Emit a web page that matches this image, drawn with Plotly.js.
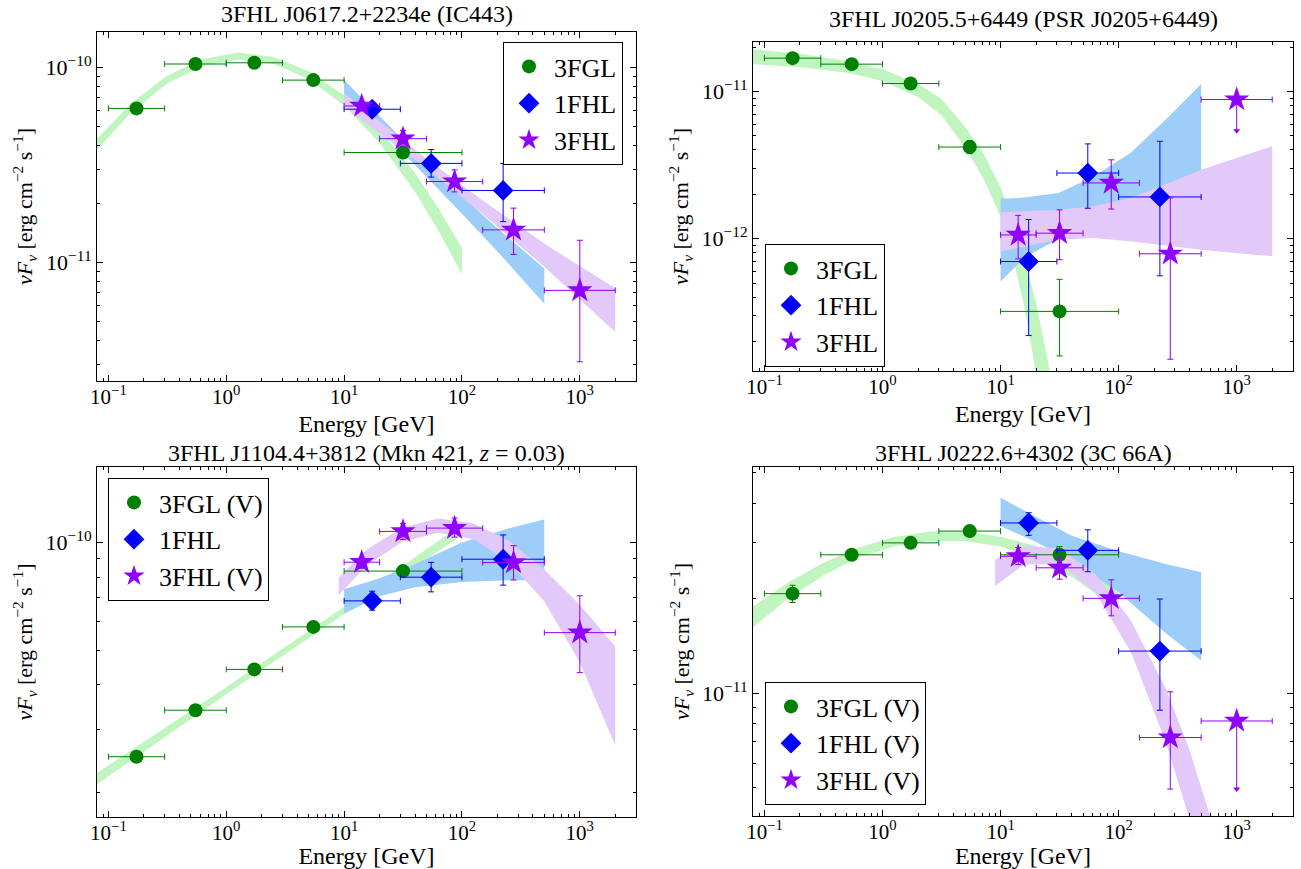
<!DOCTYPE html>
<html><head><meta charset="utf-8">
<script src="https://cdn.plot.ly/plotly-3.0.1.min.js"></script>
<style>body{margin:0;background:#fff;} #chart{width:1301px;height:869px;}</style>
</head><body><div id="chart"></div>
<script>
// ---------- energy bins (GeV) ----------
const fglE   = [0.173, 0.548, 1.73, 5.48, 31.6];
const fglElo = [0.1, 0.3, 1, 3, 10];
const fglEhi = [0.3, 1, 3, 10, 100];
const fhl1E   = [17.3, 54.8, 223.6];
const fhl1Elo = [10, 30, 100];
const fhl1Ehi = [30, 100, 500];
const fhl3E   = [14.1, 31.6, 86.6, 273.9, 1000];
const fhl3Elo = [10, 20, 50, 150, 500];
const fhl3Ehi = [20, 50, 150, 500, 2000];
const fhl3E4   = [14.1, 31.6, 86.6, 273.9];
const fhl3E4lo = [10, 20, 50, 150];
const fhl3E4hi = [20, 50, 150, 500];
const ulE = [1000], ulElo = [500], ulEhi = [2000];

// ---------- panel A : IC443 ----------
const fglA    = [6.16e-11, 1.04e-10, 1.055e-10, 8.6e-11, 3.66e-11];
const fglAhi  = [6.4e-11, 1.06e-10, 1.07e-10, 8.8e-11, 3.85e-11];
const fglAlo  = [5.95e-11, 1.02e-10, 1.04e-10, 8.4e-11, 3.48e-11];
const fhl1A   = [6.1e-11, 3.22e-11, 2.34e-11];
const fhl1Ahi = [6.35e-11, 3.79e-11, 3.22e-11];
const fhl1Alo = [5.85e-11, 2.74e-11, 1.62e-11];
const fhl3A   = [6.34e-11, 4.31e-11, 2.6e-11, 1.47e-11, 7.2e-12];
const fhl3Ahi = [6.7e-11, 4.75e-11, 2.98e-11, 1.9e-11, 1.3e-11];
const fhl3Alo = [6.0e-11, 3.95e-11, 2.3e-11, 1.1e-11, 3.1e-12];
const gA_E  = [0.08, 0.16, 0.32, 0.63, 1.26, 2.5, 5, 10, 20, 40, 63, 100];
const gA_up = [4.31e-11, 6.65e-11, 9.10e-11, 1.104e-10, 1.191e-10, 1.132e-10, 9.55e-11, 7.19e-11, 4.81e-11, 2.87e-11, 1.90e-11, 1.19e-11];
const gA_lo = [3.78e-11, 5.96e-11, 8.30e-11, 1.016e-10, 1.096e-10, 1.042e-10, 8.71e-11, 6.38e-11, 4.09e-11, 2.30e-11, 1.46e-11, 8.73e-12];
const bA_E  = [10, 20, 40, 100, 200, 500];
const bA_up = [8.61e-11, 5.60e-11, 3.68e-11, 2.19e-11, 1.50e-11, 9.31e-12];
const bA_lo = [7.06e-11, 4.76e-11, 3.16e-11, 1.78e-11, 1.14e-11, 6.15e-12];
const pA_E  = [10, 20, 50, 150, 500, 1000, 2000];
const pA_up = [7.38e-11, 5.27e-11, 3.40e-11, 2.08e-11, 1.25e-11, 9.59e-12, 7.38e-12];
const pA_lo = [6.28e-11, 4.59e-11, 3.03e-11, 1.77e-11, 9.51e-12, 6.49e-12, 4.41e-12];

// ---------- panel B : PSR J0205+6449 ----------
const fglB    = [1.68e-11, 1.53e-11, 1.13e-11, 4.19e-12, 3.21e-13];
const fglBhi  = [1.72e-11, 1.57e-11, 1.16e-11, 4.64e-12, 5.3e-13];
const fglBlo  = [1.64e-11, 1.49e-11, 1.10e-11, 3.78e-12, 1.6e-13];
const fhl1B   = [7.0e-13, 2.79e-12, 1.92e-12];
const fhl1Bhi = [1.35e-12, 4.4e-12, 4.58e-12];
const fhl1Blo = [2.2e-13, 1.61e-12, 5.6e-13];
const fhl3B   = [1.06e-12, 1.09e-12, 2.39e-12, 7.9e-13];
const fhl3Bhi = [1.44e-12, 1.57e-12, 3.43e-12, 1.89e-12];
const fhl3Blo = [7.3e-13, 7.2e-13, 1.59e-12, 1.52e-13];
const ulB = [8.8e-12], ulBend = [5.4e-12];
const gB_E  = [0.08, 0.2, 0.5, 1, 2, 3.16, 5, 7.1, 10, 12.6, 15.8, 20, 25.1, 28.2];
const gB_up = [1.93e-11, 1.80e-11, 1.61e-11, 1.41e-11, 1.127e-11, 8.87e-12, 5.75e-12, 3.85e-12, 2.24e-12, 1.34e-12, 7.36e-13, 3.69e-13, 1.49e-13, 8.9e-14];
const gB_lo = [1.53e-11, 1.46e-11, 1.34e-11, 1.175e-11, 9.16e-12, 6.89e-12, 4.17e-12, 2.60e-12, 1.41e-12, 7.73e-13, 3.52e-13, 1.22e-13, 3.42e-14, 1.55e-14];
const bB_E  = [10, 15.8, 31, 62, 126, 251, 500];
const bB_up = [1.87e-12, 1.90e-12, 2.04e-12, 2.65e-12, 3.82e-12, 6.43e-12, 1.122e-11];
const bB_lo = [5.13e-13, 7.41e-13, 1.0e-12, 1.175e-12, 1.32e-12, 1.41e-12, 1.585e-12];
const pB_E  = [10, 30.5, 61.7, 124, 251, 500, 2000];
const pB_up = [1.51e-12, 1.574e-12, 1.66e-12, 1.888e-12, 2.34e-12, 2.94e-12, 4.24e-12];
const pB_lo = [8.2e-13, 9.84e-13, 1.012e-12, 9.6e-13, 9.0e-13, 8.41e-13, 7.59e-13];

// ---------- panel C : Mkn 421 ----------
const fglC    = [2.52e-11, 3.4e-11, 4.42e-11, 5.81e-11, 8.32e-11];
const fglChi  = [2.6e-11, 3.5e-11, 4.55e-11, 5.95e-11, 8.6e-11];
const fglClo  = [2.45e-11, 3.3e-11, 4.3e-11, 5.67e-11, 8.05e-11];
const fhl1C   = [6.87e-11, 8.0e-11, 8.98e-11];
const fhl1Chi = [7.31e-11, 8.8e-11, 1.05e-10];
const fhl1Clo = [6.47e-11, 7.28e-11, 7.6e-11];
const fhl3C   = [8.81e-11, 1.074e-10, 1.097e-10, 8.79e-11, 5.6e-11];
const fhl3Chi = [9.1e-11, 1.13e-10, 1.17e-10, 9.8e-11, 7.1e-11];
const fhl3Clo = [8.47e-11, 1.02e-10, 1.035e-10, 7.86e-11, 4.33e-11];
const gC_E  = [0.08, 1, 10, 100];
const gC_up = [2.27e-11, 3.94e-11, 6.61e-11, 1.122e-10];
const gC_lo = [2.11e-11, 3.77e-11, 6.31e-11, 1.047e-10];
const bC_E  = [10, 20, 40, 100, 251, 500];
const bC_up = [7.40e-11, 7.94e-11, 8.71e-11, 1.0e-10, 1.096e-10, 1.159e-10];
const bC_lo = [6.32e-11, 7.08e-11, 7.5e-11, 7.76e-11, 7.85e-11, 7.85e-11];
const pC_E  = [9, 15.8, 31.6, 63, 126, 251, 500, 1000, 2000];
const pC_up = [8.0e-11, 9.59e-11, 1.104e-10, 1.167e-10, 1.130e-10, 1.012e-10, 8.41e-11, 6.70e-11, 5.12e-11];
const pC_lo = [7.13e-11, 8.67e-11, 1.007e-10, 1.064e-10, 1.021e-10, 8.81e-11, 6.84e-11, 4.63e-11, 2.71e-11];

// ---------- panel D : 3C 66A ----------
const fglD    = [2.07e-11, 2.75e-11, 3.0e-11, 3.27e-11, 2.75e-11];
const fglDhi  = [2.2e-11, 2.83e-11, 3.08e-11, 3.35e-11, 2.92e-11];
const fglDlo  = [1.94e-11, 2.67e-11, 2.92e-11, 3.19e-11, 2.64e-11];
const fhl1D   = [3.47e-11, 2.84e-11, 1.36e-11];
const fhl1Dhi = [3.74e-11, 3.3e-11, 1.99e-11];
const fhl1Dlo = [3.17e-11, 2.43e-11, 8.83e-12];
const fhl3D   = [2.72e-11, 2.5e-11, 2.0e-11, 7.23e-12];
const fhl3Dhi = [2.9e-11, 2.7e-11, 2.29e-11, 1.01e-11];
const fhl3Dlo = [2.56e-11, 2.3e-11, 1.76e-11, 4.96e-12];
const ulD = [8.16e-12], ulDend = [4.96e-12];
const gD_E  = [0.08, 0.16, 0.32, 0.63, 1.26, 2.5, 5, 10, 20, 40, 100];
const gD_up = [1.88e-11, 2.25e-11, 2.60e-11, 2.90e-11, 3.13e-11, 3.26e-11, 3.26e-11, 3.14e-11, 2.93e-11, 2.64e-11, 2.16e-11];
const gD_lo = [1.62e-11, 2.0e-11, 2.37e-11, 2.70e-11, 2.92e-11, 3.04e-11, 3.04e-11, 2.92e-11, 2.67e-11, 2.34e-11, 1.84e-11];
const bD_E  = [10, 20, 40, 100, 251, 500];
const bD_up = [4.17e-11, 3.63e-11, 3.16e-11, 2.82e-11, 2.57e-11, 2.42e-11];
const bD_lo = [3.39e-11, 3.02e-11, 2.63e-11, 2.09e-11, 1.55e-11, 1.27e-11];
const pD_E  = [9, 15.8, 31.6, 63, 126, 251, 398, 631];
const pD_up = [2.65e-11, 2.94e-11, 2.88e-11, 2.40e-11, 1.71e-11, 1.035e-11, 6.61e-12, 3.80e-12];
const pD_lo = [2.19e-11, 2.56e-11, 2.57e-11, 2.09e-11, 1.36e-11, 7.0e-12, 3.98e-12, 2.09e-12];

// ---------- text ----------
const titles = ['3FHL J0617.2+2234e (IC443)', '3FHL J0205.5+6449 (PSR J0205+6449)',
                '3FHL J1104.4+3812 (Mkn 421, <i>z</i> = 0.03)', '3FHL J0222.6+4302 (3C 66A)'];
const namesA = ['3FGL', '1FHL', '3FHL'];
const namesB = ['3FGL', '1FHL', '3FHL'];
const namesC = ['3FGL (V)', '1FHL', '3FHL (V)'];
const namesD = ['3FGL (V)', '1FHL (V)', '3FHL (V)'];
const xTickVals = [0.1, 1, 10, 100, 1000];
const xTickText = ['10<sup>−1</sup>', '10<sup>0</sup>', '10<sup>1</sup>', '10<sup>2</sup>', '10<sup>3</sup>'];
const yTickValsA = [1e-11, 1e-10], yTickTextA = ['10<sup>−11</sup>', '10<sup>−10</sup>'];
const yTickValsB = [1e-12, 1e-11], yTickTextB = ['10<sup>−12</sup>', '10<sup>−11</sup>'];
const yTickValsC = [1e-10], yTickTextC = ['10<sup>−10</sup>'];
const yTickValsD = [1e-11], yTickTextD = ['10<sup>−11</sup>'];
const xTitle = 'Energy [GeV]';
const yTitle = '<i>νF</i><sub><i>ν</i></sub> [erg cm<sup>−2</sup> s<sup>−1</sup>]';

// ---------- styling ----------
const FONT = 'Liberation Serif';
const C_GREEN = '#008000', C_BLUE = '#0000ff', C_PURPLE = '#8f00ff';
const F_GREEN = '#c0f5c0', F_BLUE = '#9dcdf9', F_PURPLE = '#e2c9f9';

function band(E, up, lo, fill, xa, ya) {
  return {x: E.concat(E.slice().reverse()), y: up.concat(lo.slice().reverse()),
    xaxis: xa, yaxis: ya, mode: 'lines', fill: 'toself', fillcolor: fill,
    line: {width: 0, color: fill}, hoverinfo: 'skip', showlegend: false};
}
function pts(E, Elo, Ehi, v, hi, lo, sym, size, color, name, xa, ya, leg, show) {
  return {x: E, y: v, xaxis: xa, yaxis: ya, mode: 'markers', name: name, legend: leg,
    showlegend: show !== false,
    marker: {symbol: sym, size: size, color: color, line: {width: 0}},
    error_x: {type: 'data', symmetric: false, array: E.map((e, i) => Ehi[i] - e),
      arrayminus: E.map((e, i) => e - Elo[i]), color: color, thickness: 1, width: 3},
    error_y: {type: 'data', symmetric: false, array: v.map((y, i) => hi[i] - y),
      arrayminus: v.map((y, i) => y - lo[i]), color: color, thickness: 1, width: 3}};
}
function ul(v, end, xa, ya) {
  const t = pts(ulE, ulElo, ulEhi, v, v, end, 'star', 19, C_PURPLE, '', xa, ya, 'legend', false);
  t.error_y.width = 0;
  return [t, {x: ulE, y: end, xaxis: xa, yaxis: ya, mode: 'markers', showlegend: false, hoverinfo: 'skip',
    marker: {symbol: 'triangle-down', size: 6, color: C_PURPLE, line: {width: 0}}}];
}

let traces = [];
function panel(g, b, p, fgl, fh1, fh3, names, xa, ya, leg) {
  traces.push(band(g[0], g[1], g[2], F_GREEN, xa, ya));
  traces.push(band(b[0], b[1], b[2], F_BLUE, xa, ya));
  traces.push(band(p[0], p[1], p[2], F_PURPLE, xa, ya));
  traces.push(pts(fglE, fglElo, fglEhi, fgl[0], fgl[1], fgl[2], 'circle', 14, C_GREEN, names[0], xa, ya, leg));
  traces.push(pts(fhl1E, fhl1Elo, fhl1Ehi, fh1[0], fh1[1], fh1[2], 'diamond', 16, C_BLUE, names[1], xa, ya, leg));
  traces.push(pts(fh3[3], fh3[4], fh3[5], fh3[0], fh3[1], fh3[2], 'star', 19, C_PURPLE, names[2], xa, ya, leg));
}
panel([gA_E, gA_up, gA_lo], [bA_E, bA_up, bA_lo], [pA_E, pA_up, pA_lo],
  [fglA, fglAhi, fglAlo], [fhl1A, fhl1Ahi, fhl1Alo], [fhl3A, fhl3Ahi, fhl3Alo, fhl3E, fhl3Elo, fhl3Ehi], namesA, 'x', 'y', 'legend');
panel([gB_E, gB_up, gB_lo], [bB_E, bB_up, bB_lo], [pB_E, pB_up, pB_lo],
  [fglB, fglBhi, fglBlo], [fhl1B, fhl1Bhi, fhl1Blo], [fhl3B, fhl3Bhi, fhl3Blo, fhl3E4, fhl3E4lo, fhl3E4hi], namesB, 'x2', 'y2', 'legend2');
traces = traces.concat(ul(ulB, ulBend, 'x2', 'y2'));
panel([gC_E, gC_up, gC_lo], [bC_E, bC_up, bC_lo], [pC_E, pC_up, pC_lo],
  [fglC, fglChi, fglClo], [fhl1C, fhl1Chi, fhl1Clo], [fhl3C, fhl3Chi, fhl3Clo, fhl3E, fhl3Elo, fhl3Ehi], namesC, 'x3', 'y3', 'legend3');
panel([gD_E, gD_up, gD_lo], [bD_E, bD_up, bD_lo], [pD_E, pD_up, pD_lo],
  [fglD, fglDhi, fglDlo], [fhl1D, fhl1Dhi, fhl1Dlo], [fhl3D, fhl3Dhi, fhl3Dlo, fhl3E4, fhl3E4lo, fhl3E4hi], namesD, 'x4', 'y4', 'legend4');
traces = traces.concat(ul(ulD, ulDend, 'x4', 'y4'));

// minor tick positions (2..9 x 10^k)
const minorVals = [];
for (let k = -14; k <= 3; k++) for (let m = 2; m <= 9; m++) minorVals.push(m * Math.pow(10, k));

function xax(domain, anchor) {
  return {type: 'log', range: [-1.097, 3.477], domain: domain, anchor: anchor,
    showline: true, mirror: 'allticks', linecolor: 'black', linewidth: 1,
    ticks: 'inside', ticklen: 6, tickwidth: 1, tickcolor: 'black',
    tickmode: 'array', tickvals: xTickVals, ticktext: xTickText, ticklabelstandoff: -3,
    tickfont: {family: FONT, size: 21, color: 'black'}, showgrid: false, zeroline: false,
    minor: {ticks: 'inside', ticklen: 3, tickcolor: 'black', tickwidth: 1, tickmode: 'array', tickvals: minorVals, showgrid: false},
    title: {text: xTitle, font: {family: FONT, size: 24, color: 'black'}, standoff: 6}, automargin: false};
}
function yax(domain, anchor, range, tv, tt) {
  return {type: 'log', range: range, domain: domain, anchor: anchor,
    showline: true, mirror: 'allticks', linecolor: 'black', linewidth: 1,
    ticks: 'inside', ticklen: 6, tickwidth: 1, tickcolor: 'black',
    tickmode: 'array', tickvals: tv, ticktext: tt,
    tickfont: {family: FONT, size: 22, color: 'black'}, showgrid: false, zeroline: false,
    minor: {ticks: 'inside', ticklen: 3, tickcolor: 'black', tickwidth: 1, tickmode: 'array', tickvals: minorVals, showgrid: false},
    title: {text: yTitle, font: {family: FONT, size: 22, color: 'black'}, standoff: 6}, automargin: false};
}
function legend(x, y, xa, ya) {
  return {x: x, y: y, xanchor: xa, yanchor: ya, bgcolor: 'white', bordercolor: 'black', borderwidth: 1,
    font: {family: FONT, size: 26, color: 'black'}, itemwidth: 40, tracegroupgap: 0};
}
const dXL = [97 / 1301, 636 / 1301], dXR = [753 / 1301, 1293 / 1301];
const layout = {
  width: 1301, height: 869, margin: {l: 0, r: 0, t: 0, b: 0},
  paper_bgcolor: 'white', plot_bgcolor: 'white', font: {family: FONT, color: 'black'},
  xaxis: xax(dXL, 'y'), yaxis: yax([1 - 381 / 869, 1 - 32 / 869], 'x', [-11.607, -9.819], yTickValsA, yTickTextA),
  xaxis2: xax(dXR, 'y2'), yaxis2: yax([1 - 371 / 869, 1 - 42 / 869], 'x2', [-12.898, -10.665], yTickValsB, yTickTextB),
  xaxis3: xax(dXL, 'y3'), yaxis3: yax([1 - 817 / 869, 1 - 467 / 869], 'x3', [-10.767, -9.789], yTickValsC, yTickTextC),
  xaxis4: xax(dXR, 'y4'), yaxis4: yax([1 - 816 / 869, 1 - 467 / 869], 'x4', [-11.39, -10.282], yTickValsD, yTickTextD),
  legend: legend(623 / 1301, 1 - 42 / 869, 'right', 'top'),
  legend2: legend(765 / 1301, 1 - 367 / 869, 'left', 'bottom'),
  legend3: legend(108 / 1301, 1 - 478 / 869, 'left', 'top'),
  legend4: legend(765 / 1301, 1 - 805 / 869, 'left', 'bottom'),
  showlegend: true,
  annotations: [
    {text: titles[0], x: 366.5 / 1301, y: 1 - 14 / 869},
    {text: titles[1], x: 1023 / 1301, y: 1 - 19 / 869},
    {text: titles[2], x: 366.5 / 1301, y: 1 - 453 / 869},
    {text: titles[3], x: 1023 / 1301, y: 1 - 453 / 869}
  ].map(a => Object.assign(a, {xref: 'paper', yref: 'paper', xanchor: 'center', yanchor: 'middle',
    showarrow: false, font: {family: FONT, size: 24, color: 'black'}}))
};
Plotly.newPlot('chart', traces, layout, {displayModeBar: false, staticPlot: true});
</script></body></html>
